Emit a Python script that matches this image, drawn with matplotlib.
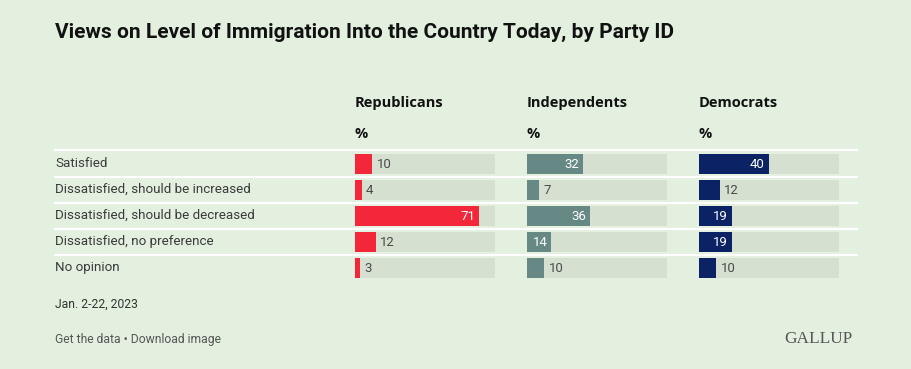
import matplotlib
matplotlib.use("Agg")
import matplotlib.pyplot as plt
from matplotlib.lines import Line2D

W, H = 912, 369
BG = "#e3f0e0"
TRACK = "#d5e0d1"

categories = ["Satisfied", "Dissatisfied, should be increased",
              "Dissatisfied, should be decreased", "Dissatisfied, no preference",
              "No opinion"]
parties = ["Republicans", "Independents", "Democrats"]
republicans = [10, 4, 71, 12, 3]
independents = [32, 7, 36, 14, 10]
democrats = [40, 12, 19, 19, 10]
colors = ["#f4273a", "#678985", "#0b2265"]
xmax = 80

plt.rcParams['font.family'] = ['Roboto', 'DejaVu Sans']
fig = plt.figure(figsize=(W / 100, H / 100), dpi=100)
fig.patch.set_facecolor(BG)

def fx(x):
    return x / W

def fy(y):
    return 1 - y / H

# Title
fig.text(fx(55), fy(32), "Views on Level of Immigration Into the Country Today, by Party ID",
         fontsize=15, fontweight='bold', color="#111111", va='center', ha='left')

# Row geometry
row_top = 151
row_h = 26
n = len(categories)

# separator lines
for i in range(n):
    y = row_top + row_h * i - 0.5
    fig.add_artist(Line2D([fx(55), fx(857)], [fy(y), fy(y)], color="white", lw=1.6,
                          transform=fig.transFigure))

# Row labels
for i, c in enumerate(categories):
    fig.text(fx(55), fy(row_top + row_h * i + 12.5), c, fontsize=9.6, color="#3a3a3a",
             va='center', ha='left')

panel_x = [355, 527, 699]
panel_w = 140
series = [republicans, independents, democrats]

for p, (name, vals, col, x0) in enumerate(zip(parties, series, colors, panel_x)):
    ax = fig.add_axes([fx(x0), fy(row_top + row_h * n), panel_w / W, row_h * n / H])
    ax.set_xlim(0, xmax)
    ax.set_ylim(n - 0.5, -0.5)
    ax.axis('off')
    ypos = list(range(n))
    ax.barh(ypos, [xmax] * n, height=20 / 26, color=TRACK, zorder=1)
    ax.barh(ypos, vals, height=20 / 26, color=col, zorder=2)
    for y, v in zip(ypos, vals):
        if v >= 14:
            ax.annotate(str(v), (v, y), xytext=(-4, 0), textcoords='offset pixels',
                        ha='right', va='center', color='white', fontsize=9.5, zorder=3)
        else:
            ax.annotate(str(v), (v, y), xytext=(4, 0), textcoords='offset pixels',
                        ha='left', va='center', color='#4a4a4a', fontsize=9.5, zorder=3)
    fig.text(fx(x0), fy(103), name, fontsize=10.5, fontweight='bold', color="#111111",
             va='center', ha='left', family=['Open Sans', 'DejaVu Sans'])
    fig.text(fx(x0), fy(134), "%", fontsize=10.5, fontweight='bold', color="#111111",
             va='center', ha='left', family=['Open Sans', 'DejaVu Sans'])

# Footer
fig.text(fx(55), fy(304), "Jan. 2-22, 2023", fontsize=8.7, color="#333333", va='center', ha='left')
fig.text(fx(55), fy(339), "Get the data \u2022 Download image", fontsize=8.7, color="#555555",
         va='center', ha='left')
fig.text(fx(853), fy(339), "GALLUP", fontsize=12.4, color="#555555", va='center', ha='right',
         family=['Liberation Serif', 'DejaVu Serif'])

fig.savefig("out.png", dpi=100, facecolor=BG)
